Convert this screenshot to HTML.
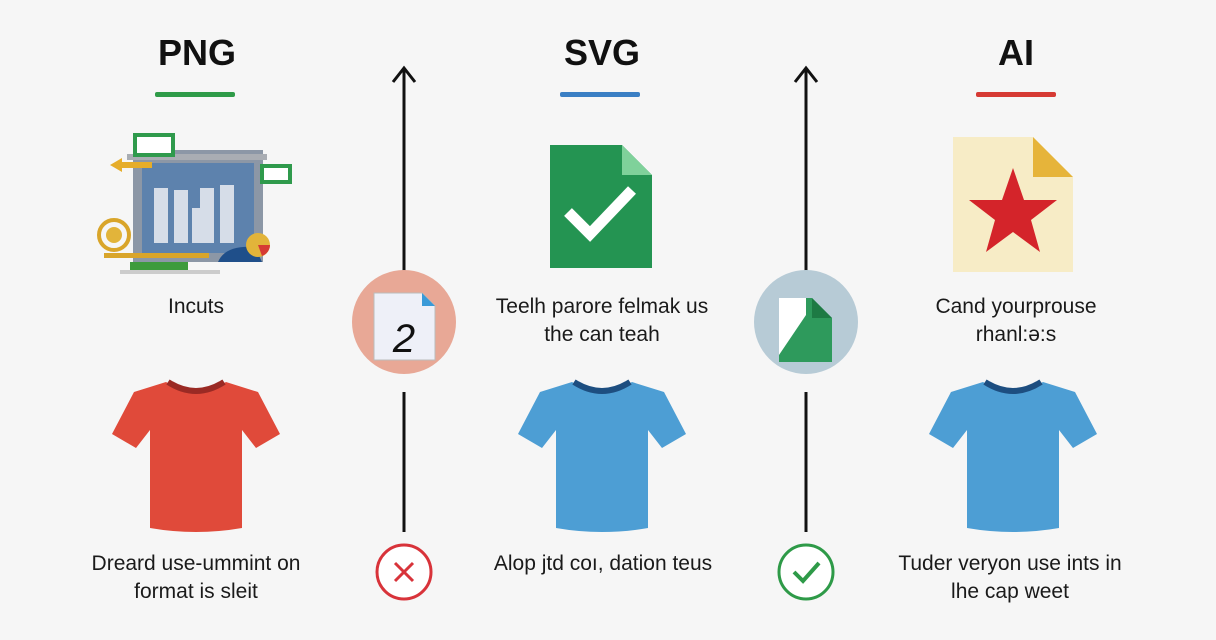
<!DOCTYPE html>
<html><head><meta charset="utf-8"><style>
html,body{margin:0;padding:0;background:#f6f6f6;}
svg{display:block;font-family:"Liberation Sans",sans-serif;}
</style></head><body>
<svg width="1216" height="640" viewBox="0 0 1216 640" xmlns="http://www.w3.org/2000/svg">
<defs>
<g id="shirt">
<path d="M-30,-50 L-62,-40 L-84,2 L-60,16 L-46,-2 L-46,96 Q0,104 46,96 L46,-2 L60,16 L84,2 L62,-40 L30,-50 Q0,-32 -30,-50 Z"/>
</g>
</defs>
<rect width="1216" height="640" fill="#f6f6f6"/>
<g font-weight="bold" font-size="36" text-anchor="middle" fill="#111">
<text x="197" y="65">PNG</text><text x="602" y="65">SVG</text><text x="1016" y="65">AI</text>
</g>
<rect x="155" y="92" width="80" height="5" rx="2" fill="#2e9b48"/>
<rect x="560" y="92" width="80" height="5" rx="2" fill="#3a7fc4"/>
<rect x="976" y="92" width="80" height="5" rx="2" fill="#d63a34"/>
<g stroke="#111" stroke-width="3" fill="none">
<line x1="404" y1="68" x2="404" y2="272"/><line x1="404" y1="392" x2="404" y2="532"/>
<polyline points="393,82 404,68 415,82"/>
<line x1="806" y1="68" x2="806" y2="272"/><line x1="806" y1="392" x2="806" y2="532"/>
<polyline points="795,82 806,68 817,82"/>
</g>
<circle cx="404" cy="322" r="52" fill="#e8a896"/>
<path d="M374,293 H422 L435,306 V360 H374 Z" fill="#eef0f8" stroke="#bbb"/>
<path d="M422,293 L435,306 H422 Z" fill="#3a9ad8"/>
<text x="404" y="352" font-size="40" font-style="italic" text-anchor="middle" fill="#111">2</text>
<circle cx="806" cy="322" r="52" fill="#b7cbd6"/>
<path d="M779,298 H812 L832,318 V362 H779 Z" fill="#2e9a5c"/>
<path d="M779,298 H806 V315 L779,355 Z" fill="#fff"/>
<path d="M812,298 L832,318 H812 Z" fill="#1d7a44"/>
<rect x="133" y="150" width="130" height="112" fill="#8c97a6"/>
<rect x="142" y="163" width="112" height="90" fill="#5d82ad"/>
<rect x="127" y="154" width="140" height="6" fill="#a9adb3"/>
<g fill="#d6dde8"><rect x="154" y="188" width="14" height="55"/><rect x="174" y="190" width="14" height="53"/><rect x="192" y="208" width="10" height="35"/><rect x="200" y="188" width="14" height="55"/><rect x="220" y="185" width="14" height="58"/></g>
<rect x="135" y="135" width="38" height="20" fill="#fff" stroke="#2f9a4c" stroke-width="4"/>
<rect x="262" y="166" width="28" height="16" fill="#fff" stroke="#2f9a4c" stroke-width="4"/>
<path d="M110,165 L122,158 V162 H152 V168 H122 V172 Z" fill="#e6ad2a"/>
<circle cx="114" cy="235" r="15" fill="none" stroke="#d9a52a" stroke-width="4"/>
<circle cx="114" cy="235" r="8" fill="#e2b43a"/>
<rect x="104" y="253" width="105" height="5" fill="#d9a52a"/>
<rect x="130" y="262" width="58" height="8" fill="#3d9b3c"/>
<rect x="120" y="270" width="100" height="4" fill="#ccc"/>
<path d="M218,262 Q225,245 255,247 L262,262 Z" fill="#1f4f8a"/>
<circle cx="258" cy="245" r="12" fill="#e2b43a"/><path d="M258,245 L270,245 A12,12 0 0 1 262,256 Z" fill="#d63a34"/>
<path d="M550,145 H622 L652,175 V268 H550 Z" fill="#249452"/>
<path d="M622,145 L652,175 H622 Z" fill="#7fd19a"/>
<polyline points="568,212 590,234 632,190" fill="none" stroke="#fff" stroke-width="11"/>
<path d="M953,137 H1033 L1073,177 V272 H953 Z" fill="#f7ecc6"/>
<path d="M1033,137 L1073,177 H1033 Z" fill="#e6b43a"/>
<polygon points="1013,168 1024,200 1057,200 1031,220 1040,252 1013,232 986,252 995,220 969,200 1002,200" fill="#d4242a"/>
<g font-size="21" text-anchor="middle" fill="#1a1a1a">
<text x="196" y="313">Incuts</text>
<text x="602" y="313">Teelh parore felmak us</text><text x="602" y="341">the can teah</text>
<text x="1016" y="313">Cand yourprouse</text><text x="1016" y="341">rhanl:ə:s</text>
<text x="196" y="570">Dreard use-ummint on</text><text x="196" y="598">format is sleit</text>
<text x="603" y="570">Alop jtd coı, dation teus</text>
<text x="1010" y="570">Tuder veryon use ints in</text><text x="1010" y="598">lhe cap weet</text>
</g>
<use href="#shirt" x="196" y="432" fill="#e04a3a"/>
<use href="#shirt" x="602" y="432" fill="#4d9ed4"/>
<use href="#shirt" x="1013" y="432" fill="#4d9ed4"/>
<path d="M574,382 Q602,400 630,382" fill="none" stroke="#1d4e80" stroke-width="6"/>
<path d="M985,382 Q1013,400 1041,382" fill="none" stroke="#1d4e80" stroke-width="6"/>
<path d="M168,382 Q196,400 224,382" fill="none" stroke="#9a2a24" stroke-width="6"/>
<circle cx="404" cy="572" r="27" fill="#fff" stroke="#d8333a" stroke-width="3"/>
<g stroke="#d8333a" stroke-width="3"><line x1="395" y1="563" x2="413" y2="581"/><line x1="413" y1="563" x2="395" y2="581"/></g>
<circle cx="806" cy="572" r="27" fill="#fff" stroke="#2e9a48" stroke-width="3"/>
<polyline points="794,572 803,581 819,563" fill="none" stroke="#2e9a48" stroke-width="4"/>
</svg>
</body></html>
